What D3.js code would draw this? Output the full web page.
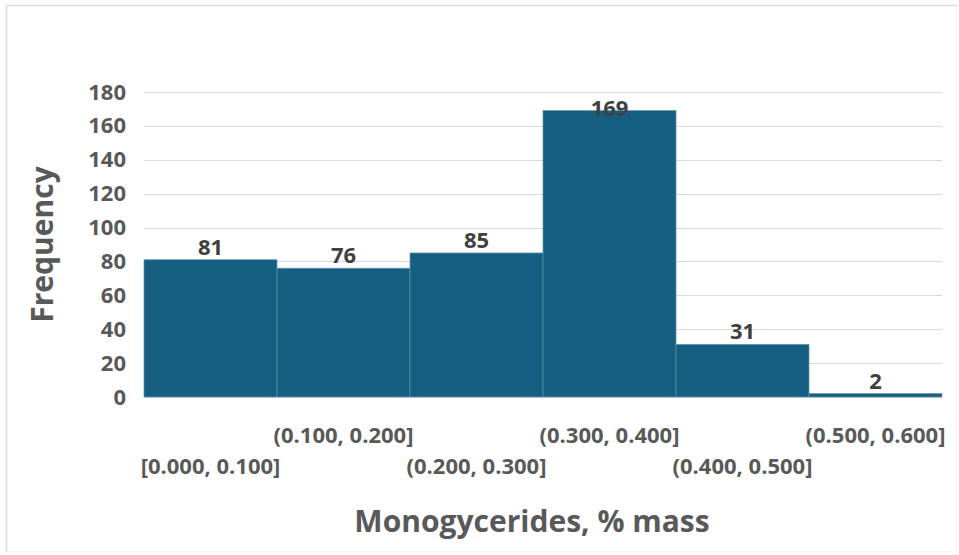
<!DOCTYPE html>
<html>
<head>
<meta charset="utf-8">
<script src="https://cdn.jsdelivr.net/npm/d3@7"></script>
<style>
  html, body { margin: 0; padding: 0; background: #fff; }
  svg { display: block; font-family: "Open Sans", "Noto Sans", sans-serif; }
</style>
</head>
<body>
<div id="chart"></div>
<script>
// histogram bins and counts
const BINS = ["[0.000, 0.100]", "(0.100, 0.200]", "(0.200, 0.300]", "(0.300, 0.400]", "(0.400, 0.500]", "(0.500, 0.600]"];
const COUNTS = [81, 76, 85, 169, 31, 2];
const Y_TICKS = [0, 20, 40, 60, 80, 100, 120, 140, 160, 180];

const width = 959, height = 555;
const margin = { left: 144, right: 17, top: 92, bottom: 158 };

const svg = d3.select('#chart').append('svg')
  .attr('width', width)
  .attr('height', height);

// chart frame: visible on top and left, faint elsewhere
svg.append('rect')
  .attr('x', 6.5).attr('y', 5.5)
  .attr('width', width - 9).attr('height', height - 9)
  .attr('fill', '#fff')
  .attr('stroke', '#f3f3f3')
  .attr('stroke-width', 1);
svg.append('path')
  .attr('d', `M6.5,${height - 4}V5.5H${width - 2}`)
  .attr('fill', 'none')
  .attr('stroke', '#dcdcdc')
  .attr('stroke-width', 1.5);

const x = d3.scaleBand()
  .domain(BINS)
  .range([margin.left, width - margin.right])
  .padding(0);

const y = d3.scaleLinear()
  .domain([0, 180])
  .range([height - margin.bottom, margin.top]);

// gridlines
svg.append('g')
  .selectAll('line')
  .data(Y_TICKS)
  .join('line')
  .attr('x1', margin.left).attr('x2', width - margin.right)
  .attr('y1', d => Math.round(y(d)) + 0.5).attr('y2', d => Math.round(y(d)) + 0.5)
  .attr('stroke', '#d9d9d9')
  .attr('stroke-width', 1);

// y axis labels
const yAxis = svg.append('g')
  .attr('transform', `translate(${margin.left - 18},0)`)
  .call(d3.axisLeft(y).tickValues(Y_TICKS).tickSize(0).tickPadding(0));
yAxis.select('.domain').remove();
yAxis.selectAll('text')
  .attr('fill', '#595959')
  .attr('font-size', 22)
  .attr('font-weight', 700)
  .attr('font-family', '"Open Sans", sans-serif');

// bars
svg.append('g')
  .selectAll('rect')
  .data(COUNTS)
  .join('rect')
  .attr('x', (d, i) => x(BINS[i]))
  .attr('y', d => y(d))
  .attr('width', x.bandwidth())
  .attr('height', d => y(0) - y(d))
  .attr('fill', '#156082')
  .attr('stroke', '#5f94ad')
  .attr('stroke-width', 0.7);

// data labels
svg.append('g')
  .selectAll('text')
  .data(COUNTS)
  .join('text')
  .attr('x', (d, i) => x(BINS[i]) + x.bandwidth() / 2)
  .attr('y', d => Math.max(y(d) - 5, y(180) + 24))
  .attr('text-anchor', 'middle')
  .attr('fill', '#404040')
  .attr('font-size', 22)
  .attr('font-weight', 700)
  .text(d => d);

// x axis labels, staggered in two rows
const xAxis = svg.append('g')
  .attr('transform', `translate(0,${y(0)})`)
  .call(d3.axisBottom(x).tickSize(0).tickPadding(0));
xAxis.select('.domain').remove();
xAxis.selectAll('text')
  .attr('dy', null)
  .attr('y', (d, i) => i % 2 === 0 ? 77 : 46)
  .attr('fill', '#595959')
  .attr('font-size', 22)
  .attr('font-weight', 700)
  .attr('font-family', '"Open Sans", sans-serif');

// axis titles
svg.append('text')
  .attr('x', 532)
  .attr('y', 532)
  .attr('text-anchor', 'middle')
  .attr('fill', '#595959')
  .attr('font-size', 30)
  .attr('font-weight', 700)
  .text('Monogycerides, % mass');

svg.append('text')
  .attr('transform', `translate(53,${(y(0) + y(180)) / 2}) rotate(-90)`)
  .attr('text-anchor', 'middle')
  .attr('fill', '#595959')
  .attr('font-size', 30)
  .attr('font-weight', 700)
  .text('Frequency');
</script>
</body>
</html>
